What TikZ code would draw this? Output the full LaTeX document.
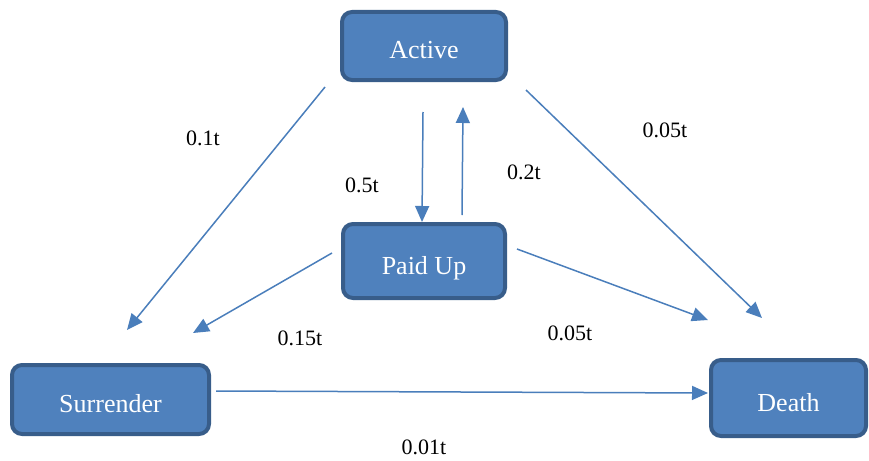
\documentclass[tikz,border=0pt]{standalone}
\usepackage{fontspec}
\setmainfont{Liberation Serif}
\usepackage{xcolor}
\usetikzlibrary{arrows.meta,positioning}

\definecolor{boxfill}{HTML}{4F81BD}
\definecolor{boxline}{HTML}{385D8A}
\definecolor{flowline}{HTML}{4A7EBB}

\begin{document}
\begin{tikzpicture}[
        x=1pt, y=1pt,
        state/.style={rectangle, rounded corners=10pt, draw=boxline, line width=4pt, fill=boxfill, text=white, align=center, text height=26pt, text depth=0pt, font=\fontsize{26}{30}\selectfont},
        flow/.style={draw=flowline, line width=1.5pt, -{Triangle[length=16pt,width=14pt]}},
        rate/.style={font=\fontsize{22}{26}\selectfont}
    ]
    \useasboundingbox (0,0) rectangle (869,-460);

    % States
    \node[state, minimum width=164pt, minimum height=68pt] (active) at (424,-46) {Active};
    \node[state, minimum width=162pt, minimum height=74pt, below=140pt of active] (paidup) {Paid Up};
    \node[state, minimum width=197pt, minimum height=69pt, below left=63pt and 130pt of paidup] (surrender) {Surrender};
    \node[state, minimum width=155pt, minimum height=76pt, below right=58pt and 202pt of paidup] (death) {Death};

    % Transitions
    \draw[flow] ([shift={(-15,-5)}]active.south west) -- ([shift={(16.5,33)}]surrender.north);
    \draw[flow] ([shift={(-1,-30)}]active.south) -- ([shift={(-2,0)}]paidup.north);
    \draw[flow] ([shift={(38,7)}]paidup.north) -- ([shift={(39,-25)}]active.south);
    \draw[flow] ([shift={(18,-8)}]active.south east) -- ([shift={(-26.5,40)}]death.north);
    \draw[flow] ([shift={(-9,8)}]paidup.west) -- ([shift={(-18,30)}]surrender.north east);
    \draw[flow] ([shift={(10,12)}]paidup.east) -- ([shift={(-1,38)}]death.north west);
    \draw[flow] ([shift={(5,8.5)}]surrender.east) -- ([shift={(-1,5)}]death.west);

    % Rates
    \node[rate] (r1) at (203,-138) {0.1t};
    \node[rate] (r2) at (665,-130) {0.05t};
    \node[rate] (r3) at (362,-185) {0.5t};
    \node[rate] (r4) at (524,-172) {0.2t};
    \node[rate] (r5) at (300,-338) {0.15t};
    \node[rate] (r6) at (570,-333) {0.05t};
    \node[rate] (r7) at (424,-447) {0.01t};
\end{tikzpicture}
\end{document}
